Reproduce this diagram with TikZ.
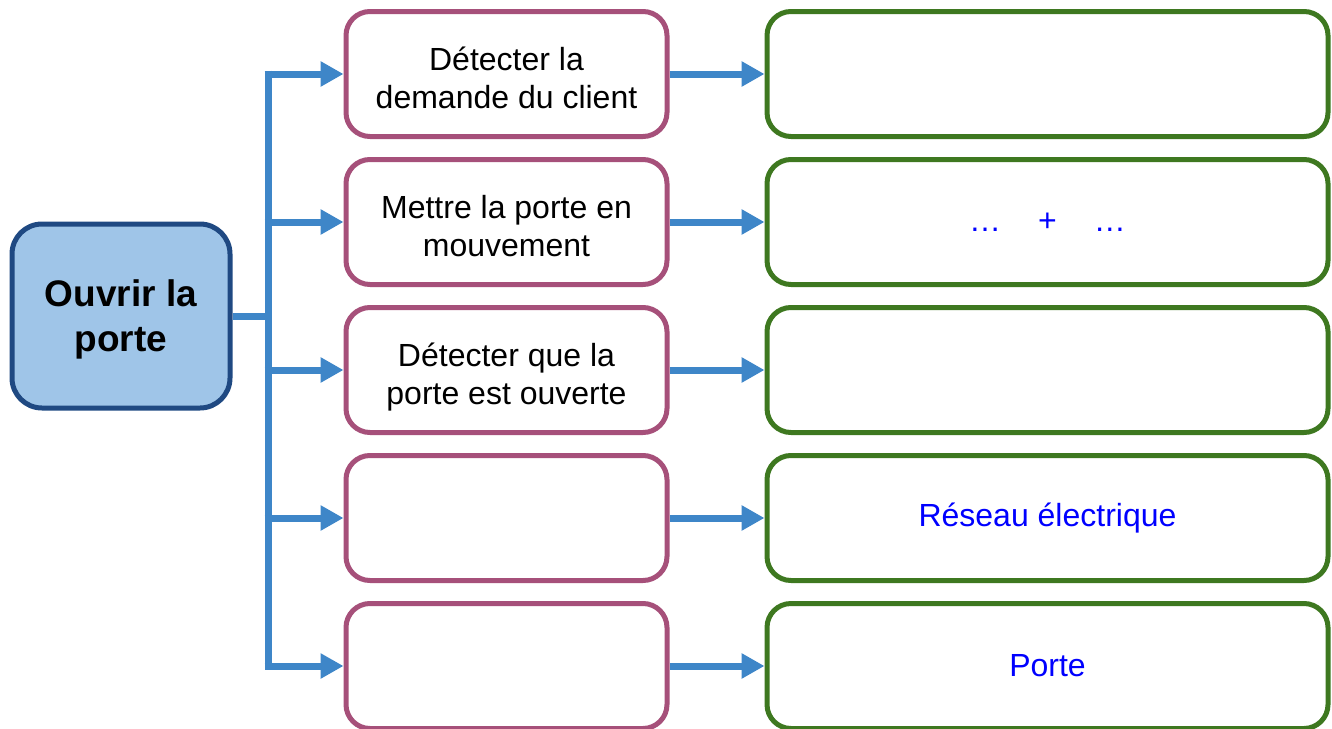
\documentclass[tikz,border=0pt]{standalone}
\usepackage{fontspec}
\setmainfont{Liberation Sans}
\usetikzlibrary{arrows.meta}
\definecolor{linkblue}{RGB}{62,134,200}
\definecolor{rootfill}{RGB}{159,197,232}
\definecolor{rootborder}{RGB}{31,73,130}
\definecolor{funcborder}{RGB}{166,80,122}
\definecolor{solborder}{RGB}{62,120,32}
\definecolor{txtblue}{RGB}{0,0,255}
\newcommand\boxtext[2]{\raisebox{0pt}[\dimexpr\height+#1\relax][\depth]{\begin{tabular}{@{}c@{}}#2\end{tabular}}}
\tikzset{
  rootbox/.style={draw=rootborder, fill=rootfill, line width=5pt, rounded corners=30pt,
    minimum width=218pt, minimum height=184pt, inner sep=0pt,
    font=\fontsize{37}{45}\selectfont\bfseries},
  funcbox/.style={draw=funcborder, line width=5pt, rounded corners=24pt,
    minimum width=321pt, minimum height=125pt, inner sep=0pt,
    font=\fontsize{32}{38}\selectfont},
  solbox/.style={draw=solborder, line width=5pt, rounded corners=24pt,
    minimum width=561pt, minimum height=125pt, align=center, inner sep=0pt,
    font=\fontsize{32}{38}\selectfont, text=txtblue},
  link/.style={draw=linkblue, line width=7pt},
  linkarrow/.style={link, -{Triangle[length=23pt,width=24pt]}}
}
\begin{document}
\begin{tikzpicture}[x=1pt,y=-1pt]
\useasboundingbox (0,0) rectangle (1332,728);
\node[rootbox] (root) at (121,316) {\boxtext{8pt}{Ouvrir la\\porte}};
\foreach \i/\t in {1/{Détecter la\\demande du client},2/{Mettre la porte en\\mouvement},3/{Détecter que la\\porte est ouverte},4/{},5/{}}{
  \node[funcbox] (m\i) at (506.5,{74+148*(\i-1)}) {\boxtext{16pt}{\t}};
  \coordinate (t\i) at (268,{74+148*(\i-1)});
}
\node[solbox] (r1) at (1047.5,74) {};
\node[solbox] (r2) at (1047.5,222) {…\hspace{37pt}+\hspace{37pt}…};
\node[solbox] (r3) at (1047.5,370) {};
\node[solbox] (r4) at (1047.5,518) {Réseau électrique};
\node[solbox] (r5) at (1047.5,666) {Porte};
\coordinate (top) at (268,70.5);
\coordinate (bot) at (268,669.5);
\coordinate (j) at (268,316);
\draw[link] (top) -- (bot);
\draw[link] (root.east) -- (j);
\foreach \i in {1,...,5}{
  \draw[linkarrow] ([xshift=-3.5pt]t\i) -- (m\i.west);
  \draw[linkarrow] (m\i.east) -- (r\i.west);
}
\end{tikzpicture}
\end{document}
